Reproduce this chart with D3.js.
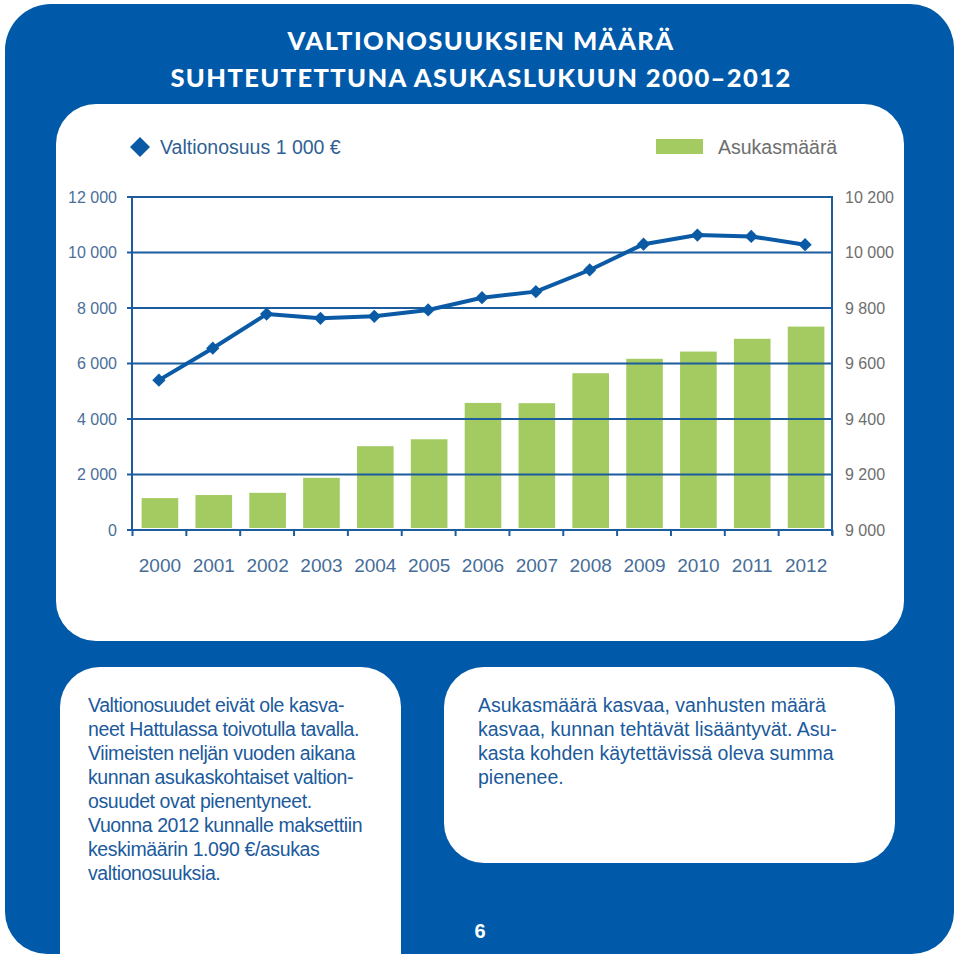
<!DOCTYPE html>
<meta charset="utf-8">
<style>
body{
    margin: 0;
    background: #fff;
}
svg text{
    font-family: "Liberation Sans", Arial, sans-serif;
}
.title{
    font-family: Lato, "Open Sans", sans-serif;
    font-weight: 900;
    font-size: 25.5px;
    letter-spacing: 1.4px;
    fill: #fff;
}
.body{
    font-size: 19.5px;
    fill: #1b5a9c;
}
</style>
<body>

<div id="chart"></div>

<script src="https://d3js.org/d3.v7.min.js"></script>
<script>

// data
var years = ["2000","2001","2002","2003","2004","2005","2006","2007","2008","2009","2010","2011","2012"];
var valtionosuus = [5400, 6550, 7780, 7630, 7700, 7930, 8370, 8590, 9370, 10300, 10630, 10580, 10280];
var asukasmaara = [9115, 9126, 9134, 9188, 9302, 9327, 9458, 9457, 9565, 9617, 9643, 9689, 9733];
var leftTicks = [0, 2000, 4000, 6000, 8000, 10000, 12000];
var rightTicks = [9000, 9200, 9400, 9600, 9800, 10000, 10200];

var titleLines = ["VALTIONOSUUKSIEN MÄÄRÄ", "SUHTEUTETTUNA ASUKASLUKUUN 2000–2012"];
var leftText = [
  "Valtionosuudet eivät ole kasva-",
  "neet Hattulassa toivotulla tavalla.",
  "Viimeisten neljän vuoden aikana",
  "kunnan asukaskohtaiset valtion-",
  "osuudet ovat pienentyneet.",
  "Vuonna 2012 kunnalle maksettiin",
  "keskimäärin 1.090 €/asukas",
  "valtionosuuksia."
];
var rightText = [
  "Asukasmäärä kasvaa, vanhusten määrä",
  "kasvaa, kunnan tehtävät lisääntyvät. Asu-",
  "kasta kohden käytettävissä oleva summa",
  "pienenee."
];

var blue = "#005aa9",
    lineBlue = "#0b5aa6",
    gridBlue = "#1d5d9e",
    green = "#a3cb61";

var fi = d3.formatLocale({decimal: ",", thousands: " ", grouping: [3], currency: ["", " €"]});
var fmt = fi.format(",");

var svg = d3.select("#chart")
  .append("svg")
    .attr("width", 960)
    .attr("height", 960);

// rounded rect with per-corner radius
function roundRect(x, y, w, h, tl, tr, br, bl) {
  var p = d3.path();
  p.moveTo(x + tl, y);
  p.lineTo(x + w - tr, y);
  p.arcTo(x + w, y, x + w, y + tr, tr);
  p.lineTo(x + w, y + h - br);
  p.arcTo(x + w, y + h, x + w - br, y + h, br);
  p.lineTo(x + bl, y + h);
  p.arcTo(x, y + h, x, y + h - bl, bl);
  p.lineTo(x, y + tl);
  p.arcTo(x, y, x + tl, y, tl);
  p.closePath();
  return p.toString();
}

// frame and panels
svg.append("path").attr("d", roundRect(5, 4, 949, 950, 46, 44, 42, 42)).attr("fill", blue);
svg.append("path").attr("d", roundRect(56, 104, 848, 537, 40, 40, 40, 40)).attr("fill", "#fff");
svg.append("path").attr("d", roundRect(60, 667, 341, 293, 40, 40, 0, 0)).attr("fill", "#fff");
svg.append("path").attr("d", roundRect(444, 667, 451, 196, 40, 40, 40, 40)).attr("fill", "#fff");

// title
svg.selectAll(".title")
  .data(titleLines)
  .enter()
  .append("text")
    .attr("class", "title")
    .attr("x", 481)
    .attr("y", function(d, i) { return 50 + i * 37; })
    .attr("text-anchor", "middle")
    .text(function(d) { return d; });

// scales
var margin = {left: 132, right: 832, top: 197, bottom: 530};

var x = d3.scaleBand()
    .domain(years)
    .range([margin.left, margin.right])
    .paddingInner(0.32)
    .paddingOuter(0.16);

var xEdge = d3.scaleLinear()
    .domain([0, years.length])
    .range([margin.left, margin.right]);

var yL = d3.scaleLinear()
    .domain([0, 12000])
    .range([margin.bottom, margin.top]);

var yR = d3.scaleLinear()
    .domain([9000, 10200])
    .range([margin.bottom, margin.top]);

// bars
svg.append("g")
  .selectAll("rect")
  .data(asukasmaara)
  .enter()
  .append("rect")
    .attr("x", function(d, i) { return x(years[i]) + 1; })
    .attr("y", function(d) { return yR(d); })
    .attr("width", x.bandwidth())
    .attr("height", function(d) { return yR(9000) - yR(d) - 2; })
    .attr("fill", green);

// gridlines
svg.append("g")
  .selectAll("line")
  .data(leftTicks)
  .enter()
  .append("line")
    .attr("x1", margin.left - 5)
    .attr("x2", margin.right + 1)
    .attr("y1", function(d) { return yL(d); })
    .attr("y2", function(d) { return yL(d); })
    .attr("stroke", gridBlue)
    .attr("stroke-width", 2);

// axis frame lines
svg.append("line")
    .attr("x1", margin.left).attr("x2", margin.left)
    .attr("y1", margin.top).attr("y2", margin.bottom)
    .attr("stroke", gridBlue).attr("stroke-width", 2);
svg.append("line")
    .attr("x1", margin.right).attr("x2", margin.right)
    .attr("y1", margin.top).attr("y2", margin.bottom + 5)
    .attr("stroke", gridBlue).attr("stroke-width", 2);

// bottom tick marks at category edges
svg.append("g")
    .attr("transform", "translate(0," + margin.bottom + ")")
    .call(d3.axisBottom(xEdge).tickValues(d3.range(0, years.length + 1)).tickSize(6).tickSizeOuter(0).tickFormat(""))
    .call(function(g) {
      g.select(".domain").remove();
      g.selectAll("line").attr("stroke", gridBlue).attr("stroke-width", 2);
    });

// year labels
svg.append("g")
    .attr("transform", "translate(1," + margin.bottom + ")")
    .call(d3.axisBottom(x).tickSize(0).tickPadding(29))
    .call(function(g) {
      g.select(".domain").remove();
      g.selectAll("text")
        .attr("font-family", "Liberation Sans, Arial, sans-serif")
        .attr("font-size", 19)
        .attr("fill", "#466d98");
    });

// left labels
svg.append("g")
    .attr("transform", "translate(" + margin.left + ",0)")
    .call(d3.axisLeft(yL).tickValues(leftTicks).tickSize(0).tickPadding(15).tickFormat(fmt))
    .call(function(g) {
      g.select(".domain").remove();
      g.selectAll("text")
        .attr("font-family", "Liberation Sans, Arial, sans-serif")
        .attr("font-size", 16)
        .attr("fill", "#4a6f99");
    });

// right labels
svg.append("g")
    .attr("transform", "translate(" + margin.right + ",0)")
    .call(d3.axisRight(yR).tickValues(rightTicks).tickSize(0).tickPadding(13).tickFormat(fmt))
    .call(function(g) {
      g.select(".domain").remove();
      g.selectAll("text")
        .attr("font-family", "Liberation Sans, Arial, sans-serif")
        .attr("font-size", 16)
        .attr("fill", "#6e6e6e");
    });

// line
var cx = function(d, i) { return x(years[i]) + x.bandwidth() / 2; };

svg.append("path")
    .datum(valtionosuus)
    .attr("fill", "none")
    .attr("stroke", lineBlue)
    .attr("stroke-width", 4)
    .attr("stroke-linejoin", "round")
    .attr("d", d3.line().x(cx).y(function(d) { return yL(d); }));

var diamond = d3.symbol().type(d3.symbolSquare).size(88);
svg.append("g")
  .selectAll("path")
  .data(valtionosuus)
  .enter()
  .append("path")
    .attr("d", diamond)
    .attr("transform", function(d, i) { return "translate(" + cx(d, i) + "," + yL(d) + ") rotate(45)"; })
    .attr("fill", lineBlue);

// legend
svg.append("path")
    .attr("d", d3.symbol().type(d3.symbolSquare).size(200))
    .attr("transform", "translate(140,147) rotate(45)")
    .attr("fill", lineBlue);
svg.append("text")
    .attr("x", 160).attr("y", 154)
    .attr("font-size", 19.5)
    .attr("fill", "#305f93")
    .text("Valtionosuus 1 000 €");
svg.append("rect")
    .attr("x", 656).attr("y", 139)
    .attr("width", 47).attr("height", 15)
    .attr("fill", green);
svg.append("text")
    .attr("x", 718).attr("y", 154)
    .attr("font-size", 19.5)
    .attr("fill", "#6e6e6e")
    .text("Asukasmäärä");

// text boxes
svg.append("g")
  .selectAll("text")
  .data(leftText)
  .enter()
  .append("text")
    .attr("class", "body")
    .attr("x", 88)
    .attr("y", function(d, i) { return 712 + i * 24; })
    .attr("letter-spacing", "-0.4px")
    .text(function(d) { return d; });

svg.append("g")
  .selectAll("text")
  .data(rightText)
  .enter()
  .append("text")
    .attr("class", "body")
    .attr("x", 478)
    .attr("y", function(d, i) { return 712 + i * 24; })
    .text(function(d) { return d; });

// page number
svg.append("text")
    .attr("x", 480).attr("y", 938)
    .attr("text-anchor", "middle")
    .attr("font-family", "Lato, sans-serif")
    .attr("font-weight", 900)
    .attr("font-size", 20)
    .attr("fill", "#fff")
    .text("6");

</script>
</body>
